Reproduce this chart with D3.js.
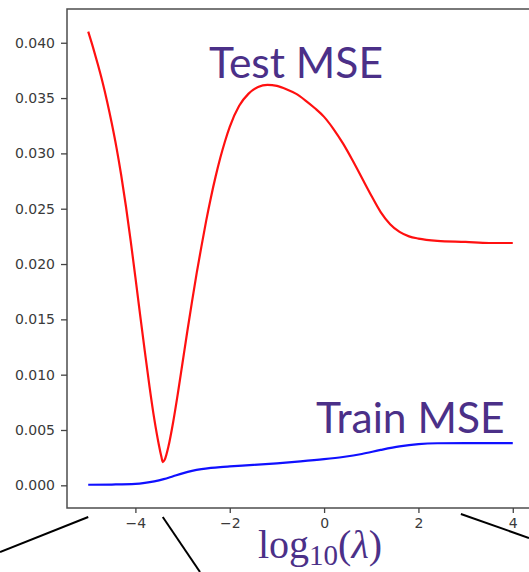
<!DOCTYPE html>
<html>
<head>
<meta charset="utf-8">
<script src="https://cdn.jsdelivr.net/npm/d3@7"></script>
<style>
body { margin: 0; background: #fff; }
svg { display: block; }
</style>
</head>
<body>
<svg width="529" height="572"></svg>
<script>
// log10(lambda) positions and MSE values
var testX = [-5, -4.9, -4.8, -4.7, -4.6, -4.5, -4.4, -4.3, -4.2, -4.1, -4.0, -3.9, -3.8, -3.7, -3.6, -3.5, -3.45, -3.42, -3.38, -3.3, -3.2, -3.1, -3.0, -2.9, -2.8, -2.7, -2.6, -2.5, -2.4, -2.3, -2.2, -2.1, -2.0, -1.8, -1.6, -1.4, -1.2, -1.0, -0.8, -0.6, -0.4, -0.2, 0.0, 0.2, 0.4, 0.6, 0.8, 1.0, 1.2, 1.4, 1.6, 1.8, 2.0, 2.4, 3.0, 3.5, 4.0];
var testMSE = [0.0410, 0.0396, 0.0381, 0.0365, 0.0347, 0.0327, 0.0305, 0.0280, 0.0252, 0.0221, 0.0188, 0.0154, 0.0121, 0.0089, 0.0060, 0.0036, 0.0026, 0.0021, 0.0023, 0.0035, 0.0057, 0.0083, 0.0111, 0.0139, 0.0166, 0.0192, 0.0216, 0.0239, 0.0260, 0.0279, 0.0296, 0.0311, 0.0324, 0.0343, 0.0354, 0.0360, 0.0362, 0.0361, 0.0358, 0.0354, 0.0348, 0.0341, 0.0333, 0.0322, 0.0309, 0.0294, 0.0278, 0.0262, 0.0247, 0.0236, 0.0229, 0.0225, 0.0223, 0.0221, 0.0220, 0.0219, 0.0219];

var trainX = [-5, -4.5, -4.0, -3.8, -3.6, -3.4, -3.2, -3.0, -2.8, -2.6, -2.4, -2.2, -2.0, -1.5, -1.0, -0.5, 0.0, 0.4, 0.8, 1.2, 1.6, 2.0, 2.4, 3.0, 4.0];
var trainMSE = [0.00005, 0.00007, 0.00013, 0.00022, 0.00036, 0.00056, 0.00082, 0.00108, 0.00130, 0.00146, 0.00157, 0.00165, 0.00171, 0.00184, 0.00199, 0.00216, 0.00236, 0.00256, 0.00283, 0.00320, 0.00352, 0.00372, 0.00380, 0.00382, 0.00382];

var yTicks = [0, 0.005, 0.010, 0.015, 0.020, 0.025, 0.030, 0.035, 0.040];
var xTicks = [-4, -2, 0, 2, 4];

var svg = d3.select("svg"),
    plotLeft = 67, plotTop = 9, plotRight = 534, plotBottom = 508;

var xScale = d3.scaleLinear().domain([-5.45, 4.45]).range([plotLeft, plotRight]),
    yScale = d3.scaleLinear().domain([-0.00205, 0.04305]).range([plotBottom, plotTop]);

var purple = "#4b3088";

// frame
svg.append("rect")
  .attr("x", plotLeft).attr("y", plotTop)
  .attr("width", plotRight - plotLeft).attr("height", plotBottom - plotTop)
  .attr("fill", "none")
  .attr("stroke", "#4d4d4d")
  .attr("stroke-width", 1.5);

svg.append("g")
  .attr("transform", "translate(" + plotLeft + ",0)")
  .call(d3.axisLeft(yScale).tickValues(yTicks).tickFormat(d3.format(".3f")).tickSize(6).tickPadding(6));

svg.append("g")
  .attr("transform", "translate(0," + plotBottom + ")")
  .call(d3.axisBottom(xScale).tickValues(xTicks).tickFormat(d3.format("d")).tickSize(5).tickPadding(5));

svg.selectAll(".domain").remove();
svg.selectAll(".tick line").attr("stroke", "#444").attr("stroke-width", 1.3);
svg.selectAll(".tick text")
  .attr("fill", "#3a3a3a")
  .style("font-family", "DejaVu Sans")
  .style("font-size", "14px");

var line = d3.line()
  .x(function (d) { return xScale(d[0]); })
  .y(function (d) { return yScale(d[1]); })
  .curve(d3.curveMonotoneX);

svg.append("path")
  .datum(d3.zip(testX, testMSE))
  .attr("d", line)
  .attr("fill", "none")
  .attr("stroke", "#ff1010")
  .attr("stroke-width", 2.2);

svg.append("path")
  .datum(d3.zip(trainX, trainMSE))
  .attr("d", line)
  .attr("fill", "none")
  .attr("stroke", "#1010ff")
  .attr("stroke-width", 2.2);

// slide annotations
svg.append("text")
  .attr("x", 209).attr("y", 78)
  .attr("fill", purple)
  .style("font-family", "Lato")
  .style("font-size", "42.5px")
  .text("Test MSE");

svg.append("text")
  .attr("x", 316).attr("y", 433)
  .attr("fill", purple)
  .style("font-family", "Lato")
  .style("font-size", "42.5px")
  .text("Train MSE");

var xl = svg.append("text")
  .attr("x", 320).attr("y", 558)
  .attr("text-anchor", "middle")
  .attr("fill", purple)
  .style("font-family", "Liberation Serif")
  .style("font-size", "40px");
xl.append("tspan").text("log");
xl.append("tspan").attr("dy", 7).style("font-size", "29px").text("10");
xl.append("tspan").attr("dy", -7).text("(");
xl.append("tspan").style("font-style", "italic").text("λ");
xl.append("tspan").text(")");

// black pointer lines under the axis
var pointers = [
  [[xScale(-5), plotBottom + 9], [0, plotBottom + 44]],
  [[xScale(-3.42), plotBottom + 9], [200, 572]],
  [[xScale(2.9), plotBottom + 6], [529, plotBottom + 30]]
];
svg.selectAll(".pointer")
  .data(pointers)
  .enter()
  .append("line")
  .attr("class", "pointer")
  .attr("x1", function (d) { return d[0][0]; })
  .attr("y1", function (d) { return d[0][1]; })
  .attr("x2", function (d) { return d[1][0]; })
  .attr("y2", function (d) { return d[1][1]; })
  .attr("stroke", "black")
  .attr("stroke-width", 2);
</script>
</body>
</html>
